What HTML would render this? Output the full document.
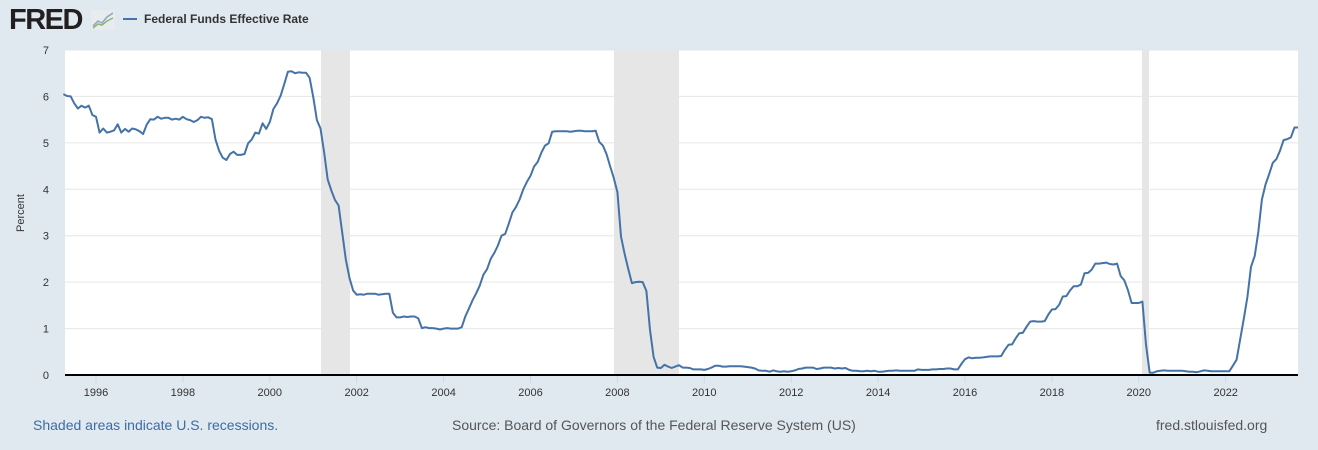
<!DOCTYPE html>
<html><head><meta charset="utf-8"><style>
html,body{margin:0;padding:0;}
body{width:1318px;height:450px;background:#e1e9f0;font-family:"Liberation Sans",sans-serif;position:relative;overflow:hidden;}
.abs{position:absolute;white-space:nowrap;}
</style></head><body>
<div class="abs" style="left:9px;top:4px;font-size:29px;font-weight:bold;color:#231f20;letter-spacing:-1.5px;">FRED</div>
<svg class="abs" style="left:91px;top:10px" width="24" height="20"><rect width="24" height="20" rx="2" fill="#e8ecef"/><polyline points="2,16 7,11 11,13 16,7 22,3" fill="none" stroke="#8aa6c4" stroke-width="1.5"/><polyline points="2,18 7,14 11,15 16,11 22,8" fill="none" stroke="#8fb46e" stroke-width="1.5"/></svg>
<div class="abs" style="left:123px;top:18px;width:14px;height:2px;background:#4572a7"></div>
<div class="abs" style="left:144px;top:12px;font-size:12px;font-weight:bold;color:#333">Federal Funds Effective Rate</div>
<svg class="abs" style="left:0;top:0" width="1318" height="450" id="chart">
<rect x="65" y="50" width="1233" height="325" fill="#fff"/>
<rect x="321" y="50" width="29" height="325" fill="#e6e6e6"/>
<rect x="614" y="50" width="65" height="325" fill="#e6e6e6"/>
<rect x="1142" y="50" width="7" height="325" fill="#e6e6e6"/>
<g stroke="#e6e6e6" stroke-width="1" id="grid"></g>
<g font-size="11" fill="#333" text-anchor="end" id="ylab"></g>
<g id="xt"></g>
<line x1="65" y1="375" x2="1298" y2="375" stroke="#000" stroke-width="2"/>
<polyline id="line" fill="none" stroke="#4572a7" stroke-width="2" stroke-linejoin="round"/>
<text x="24" y="213" font-size="11" fill="#333" text-anchor="middle" transform="rotate(-90 24 213)">Percent</text>
</svg>
<div class="abs" style="left:33px;top:417px;font-size:14px;color:#3b6ca8">Shaded areas indicate U.S. recessions.</div>
<div class="abs" style="left:452px;top:417px;font-size:14px;color:#555">Source: Board of Governors of the Federal Reserve System (US)</div>
<div class="abs" style="left:1156px;top:417px;font-size:14px;color:#555">fred.stlouisfed.org</div>
<script>
var NS="http://www.w3.org/2000/svg";
function Y(v){return 375-v*46.43;}
function X(t){return 96+(t-1996)*43.45;}
var g=document.getElementById('grid'),yl=document.getElementById('ylab'),xt=document.getElementById('xt');
for(var i=0;i<=7;i++){var y=Y(i);
 if(i>0){var l=document.createElementNS(NS,'line');l.setAttribute('x1',65);l.setAttribute('x2',1298);l.setAttribute('y1',y);l.setAttribute('y2',y);g.appendChild(l);}
 var t=document.createElementNS(NS,'text');t.setAttribute('x',49);t.setAttribute('y',y+4);t.textContent=i;yl.appendChild(t);}
for(var yr=1996;yr<=2022;yr+=2){var x=X(yr);
 var l=document.createElementNS(NS,'line');l.setAttribute('x1',x);l.setAttribute('x2',x);l.setAttribute('y1',376);l.setAttribute('y2',383);l.setAttribute('stroke','#ccd6eb');xt.appendChild(l);
 var t=document.createElementNS(NS,'text');t.setAttribute('x',x);t.setAttribute('y',396);t.setAttribute('font-size','11');t.setAttribute('fill','#333');t.setAttribute('text-anchor','middle');t.textContent=yr;xt.appendChild(t);}
var d=[6.05,6.01,6.00,5.85,5.74,5.80,5.76,5.80,5.60,
5.56,5.22,5.31,5.22,5.24,5.27,5.40,5.22,5.30,5.24,5.31,5.29,
5.25,5.19,5.39,5.51,5.50,5.56,5.52,5.54,5.54,5.50,5.52,5.50,
5.56,5.51,5.49,5.45,5.49,5.56,5.54,5.55,5.51,5.07,4.83,4.68,
4.63,4.76,4.81,4.74,4.74,4.76,4.99,5.07,5.22,5.20,5.42,5.30,
5.45,5.73,5.85,6.02,6.27,6.53,6.54,6.50,6.52,6.51,6.51,6.40,
5.98,5.49,5.31,4.80,4.21,3.97,3.77,3.65,3.07,2.49,2.09,1.82,
1.73,1.74,1.73,1.75,1.75,1.75,1.73,1.74,1.75,1.75,1.34,1.24,
1.24,1.26,1.25,1.26,1.26,1.22,1.01,1.03,1.01,1.01,1.00,0.98,
1.00,1.01,1.00,1.00,1.00,1.03,1.26,1.43,1.61,1.76,1.93,2.16,
2.28,2.50,2.63,2.79,3.00,3.04,3.26,3.50,3.62,3.78,4.00,4.16,
4.29,4.49,4.59,4.79,4.94,4.99,5.24,5.25,5.25,5.25,5.25,5.24,
5.25,5.26,5.26,5.25,5.25,5.25,5.26,5.02,4.94,4.76,4.49,4.24,
3.94,2.98,2.61,2.28,1.98,2.00,2.01,2.00,1.81,0.97,0.39,0.16,
0.15,0.22,0.18,0.15,0.18,0.21,0.16,0.16,0.15,0.12,0.12,0.12,
0.11,0.13,0.16,0.20,0.20,0.18,0.18,0.19,0.19,0.19,0.19,0.18,
0.17,0.16,0.14,0.10,0.09,0.09,0.07,0.10,0.08,0.07,0.08,0.07,
0.08,0.10,0.13,0.14,0.16,0.16,0.16,0.13,0.14,0.16,0.16,0.16,
0.14,0.15,0.14,0.15,0.11,0.09,0.09,0.08,0.08,0.09,0.08,0.09,
0.07,0.07,0.08,0.09,0.09,0.10,0.09,0.09,0.09,0.09,0.09,0.12,
0.11,0.11,0.11,0.12,0.12,0.13,0.13,0.14,0.14,0.12,0.12,0.24,
0.34,0.38,0.36,0.37,0.37,0.38,0.39,0.40,0.40,0.40,0.41,0.54,
0.65,0.66,0.79,0.90,0.91,1.04,1.15,1.16,1.15,1.15,1.16,1.30,
1.41,1.42,1.51,1.69,1.70,1.82,1.91,1.91,1.95,2.19,2.20,2.27,
2.40,2.40,2.41,2.42,2.39,2.38,2.40,2.13,2.04,1.83,1.55,1.55,
1.55,1.58,0.65,0.05,0.05,0.08,0.09,0.10,0.09,0.09,0.09,0.09,
0.09,0.08,0.07,0.07,0.06,0.08,0.10,0.09,0.08,0.08,0.08,0.08,
0.08,0.08,0.20,0.33,0.77,1.21,1.68,2.33,2.56,3.08,3.78,4.10,
4.33,4.57,4.65,4.83,5.06,5.08,5.12,5.33,5.33,5.33];
var pts=[];for(var k=0;k<d.length;k++){var t=1995+(3+k)/12;var x=Math.min(X(t),1298);pts.push(x.toFixed(1)+","+Y(d[k]).toFixed(1));}
document.getElementById('line').setAttribute('points',pts.join(' '));
</script>
</body></html>
